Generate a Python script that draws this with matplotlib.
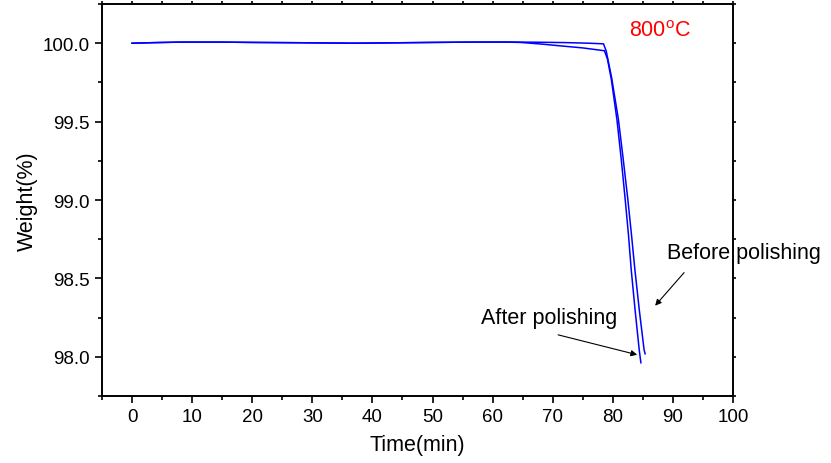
import numpy as np
import matplotlib
matplotlib.use('Agg')
import matplotlib.pyplot as plt
from matplotlib.ticker import MultipleLocator

plt.rcParams['font.family'] = ['Liberation Sans', 'DejaVu Sans']

# before polishing (right line in the drop)
t_before = [0, 4, 8, 15, 20, 28, 37, 45, 50, 56, 62, 68, 72, 76, 78.45,
            78.9, 79.8, 80.93, 81.7, 82.5, 83.1, 83.67, 84.4, 85.2, 85.38]
w_before = [100.0, 100.004, 100.007, 100.007, 100.005, 100.003, 100.0, 100.003,
            100.005, 100.007, 100.008, 100.006, 100.004, 100.0, 99.996,
            99.95, 99.78, 99.514, 99.27, 99.003, 98.78, 98.556, 98.3, 98.045, 98.019]

# after polishing (left line in the drop)
t_after = [0, 4, 8, 15, 20, 28, 37, 45, 50, 56, 62, 64.6, 68, 71.3, 75, 78.6,
           79.1, 79.75, 80.68, 81.4, 82.06, 82.6, 83.06, 83.7, 84.39, 84.67]
w_after = [100.0, 100.004, 100.007, 100.007, 100.005, 100.003, 100.0, 100.003,
           100.005, 100.007, 100.007, 100.005, 99.995, 99.983, 99.97, 99.952,
           99.9, 99.77, 99.514, 99.26, 99.003, 98.78, 98.556, 98.3, 98.045, 97.962]

x_ticks = np.arange(0, 101, 10)
y_ticks = [98.0, 98.5, 99.0, 99.5, 100.0]

fig = plt.figure(figsize=(8.31, 4.64), dpi=100)
ax = fig.add_axes([0.1227, 0.1444, 0.7594, 0.8448])

ax.plot(t_before, w_before, color='#0000ff', lw=1.1)
ax.plot(t_after, w_after, color='#0000ff', lw=1.1)

ax.set_xlim(-5, 100)
ax.set_ylim(97.75, 100.25)
ax.set_xticks(x_ticks)
ax.set_yticks(y_ticks)
ax.set_yticklabels(['{:.1f}'.format(v) for v in y_ticks])
ax.xaxis.set_minor_locator(MultipleLocator(5))
ax.yaxis.set_minor_locator(MultipleLocator(0.25))

for s in ax.spines.values():
    s.set_linewidth(1.4)
ax.tick_params(which='major', direction='out', length=5, width=1.2, labelsize=13.5,
               top=True, right=True, pad=4)
ax.tick_params(which='minor', direction='out', length=3, width=1.2,
               top=True, right=True)
# small ticks on top/right
for t in ax.xaxis.get_major_ticks() + ax.xaxis.get_minor_ticks():
    t.tick2line.set_markersize(2)
for t in ax.yaxis.get_major_ticks() + ax.yaxis.get_minor_ticks():
    t.tick2line.set_markersize(2)

ax.set_xlabel('Time(min)', fontsize=15.5, labelpad=6)
ax.set_ylabel('Weight(%)', fontsize=15.5, labelpad=3)

ax.text(87.9, 100.083, '800$\\mathregular{^{o}}$C', color='red', fontsize=15.5,
        ha='center', va='center')

arrow = dict(arrowstyle='-|>', color='black', lw=0.8,
             mutation_scale=9, shrinkA=0, shrinkB=0)
ax.annotate('', xy=(84.05, 98.013), xytext=(70.9, 98.14), arrowprops=arrow)
ax.text(69.4, 98.249, 'After polishing', fontsize=15.5, ha='center', va='center')
ax.annotate('', xy=(87.04, 98.326), xytext=(91.86, 98.537), arrowprops=arrow)
ax.text(101.8, 98.665, 'Before polishing', fontsize=15.5, ha='center', va='center',
        clip_on=False)

fig.savefig('out.png', dpi=100)
